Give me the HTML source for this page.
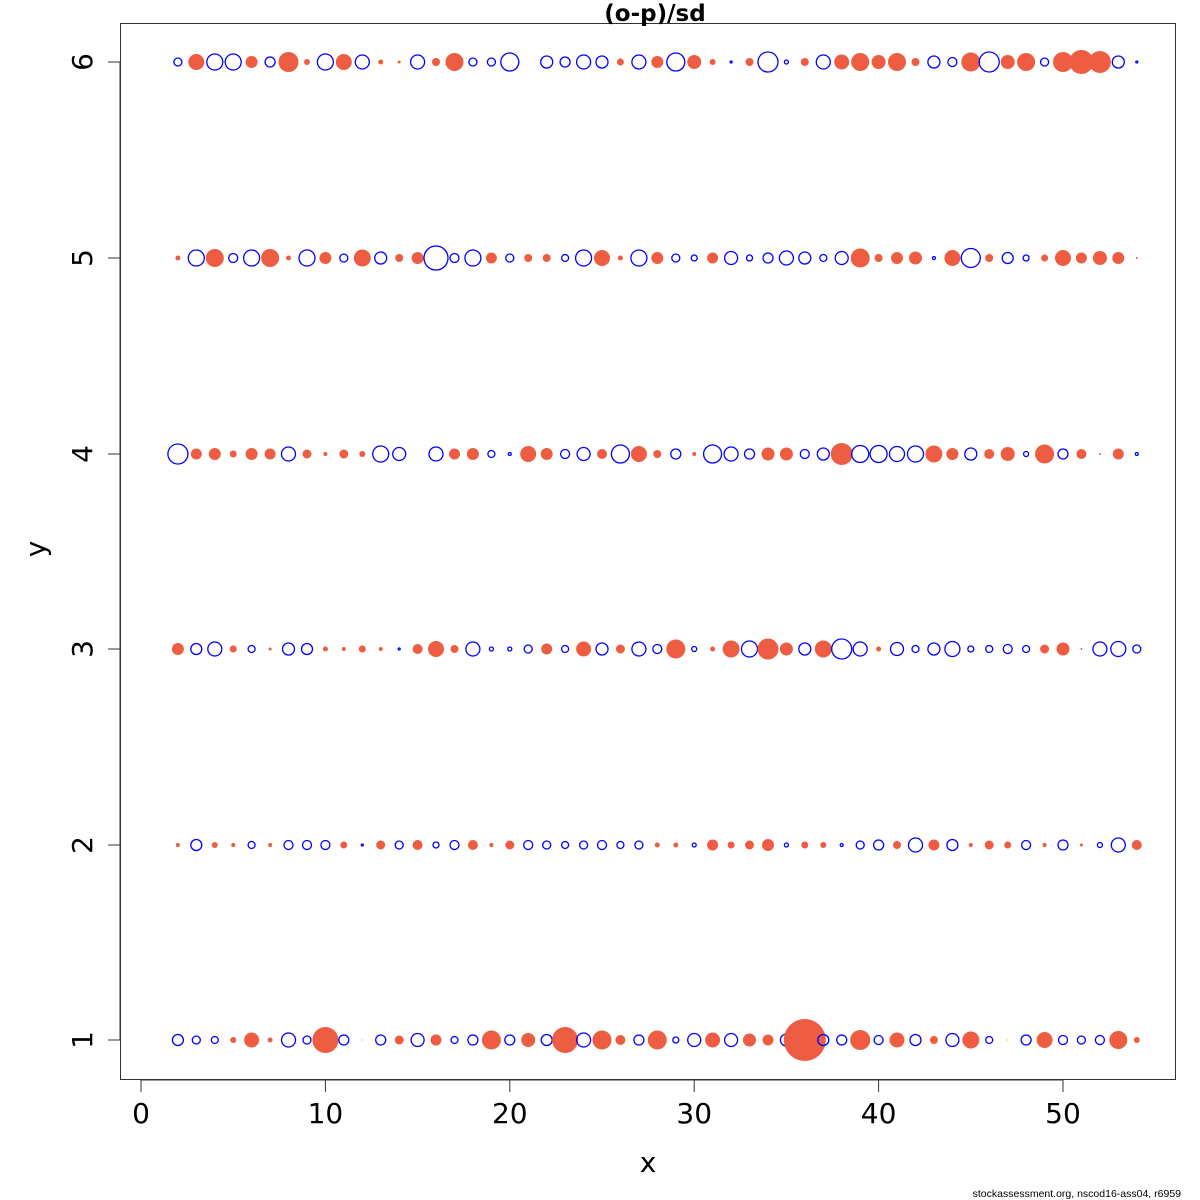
<!DOCTYPE html>
<html><head><meta charset="utf-8"><style>body{margin:0;background:#fff}svg{display:block}</style></head>
<body>
<svg id="s" width="1200" height="1200" xmlns="http://www.w3.org/2000/svg" font-family="DejaVu Sans, Liberation Sans, sans-serif">
<rect x="0" y="0" width="1200" height="1200" fill="#fff"/>
<rect x="120.5" y="23.5" width="1055" height="1056" fill="none" stroke="#333" stroke-width="1"/>
<text x="655" y="21" text-anchor="middle" font-size="23" font-weight="bold">(o-p)/sd</text>
<g stroke="#333" stroke-width="1">
<line x1="141" y1="1080" x2="1063" y2="1080"/>
<line x1="141" y1="1080" x2="141" y2="1092"/><line x1="325.4" y1="1080" x2="325.4" y2="1092"/>
<line x1="509.8" y1="1080" x2="509.8" y2="1092"/><line x1="694.2" y1="1080" x2="694.2" y2="1092"/>
<line x1="878.6" y1="1080" x2="878.6" y2="1092"/><line x1="1063" y1="1080" x2="1063" y2="1092"/>
<line x1="120" y1="62" x2="120" y2="1040"/>
<line x1="108" y1="62" x2="120" y2="62"/><line x1="108" y1="258" x2="120" y2="258"/><line x1="108" y1="454" x2="120" y2="454"/>
<line x1="108" y1="649" x2="120" y2="649"/><line x1="108" y1="845" x2="120" y2="845"/><line x1="108" y1="1040" x2="120" y2="1040"/>
</g>
<g font-size="28" text-anchor="middle" fill="#000">
<text x="141" y="1123">0</text><text x="325.4" y="1123">10</text><text x="509.8" y="1123">20</text>
<text x="694.2" y="1123">30</text><text x="878.6" y="1123">40</text><text x="1063" y="1123">50</text>
<text transform="translate(92,62) rotate(-90)">6</text><text transform="translate(92,258) rotate(-90)">5</text>
<text transform="translate(92,454) rotate(-90)">4</text><text transform="translate(92,649) rotate(-90)">3</text>
<text transform="translate(92,845) rotate(-90)">2</text><text transform="translate(92,1040) rotate(-90)">1</text>
<text x="648" y="1172">x</text>
<text transform="translate(45,549) rotate(-90)">y</text>
</g>
<text x="1181" y="1197" text-anchor="end" font-size="10.5" font-family="Liberation Sans, sans-serif">stockassessment.org, nscod16-ass04, r6959</text>
<g id="pts"></g>
</svg>
<script>
var rows={
62:[-4,8,-8,-8,6,-5,10,3,-8,8,-7,2.5,1.5,-7,4,9,-4,-4,-9,0,-6,-5,-7,-6,3.5,-7,6,-9,7,3,-1,4,-10,-2,4,-7,7.5,9,7,9,4,-6,-4.5,9.5,-10,7,9,-4,10,12,11,-6,-1],
258:[2.5,-8,9,-4.5,-8,9,2.5,-8,6,-4,8.5,-6,4,6,-12,-4.5,-8,5.5,-4,4,4,-3.5,-8,8,2.5,-8,6,-4,-3,5.5,-6.5,-3,-5,-7,-6,-3.5,-6.5,9.5,4,6,6.5,-1.5,8,-9.5,4,-5.5,-3,3.5,8,5.5,7,6,1],
454:[-10,5.5,6,3.5,6,5.5,-7,4.5,2,4.5,3,-8,-6.5,0,-7,5.5,6,-3.5,-1.5,8,6,-4.5,-6.5,5,-9,8,4,-5,2,-9,-7,-5,6.5,6.5,-4.5,-6,11,-8.5,-8.5,-7.5,-8,8.5,6,-6,5,7,-2.5,9.5,-5,5,1,5.5,-1.5],
649:[6,-5.5,-7,3.5,-3.5,1.5,-6,-5.5,2.5,2,3.5,2,-1,5,8,4,-7,-2,-2,-4,5.5,-3.5,7.5,-6,4.5,-7,-4.5,9.5,-2.5,2.5,8.5,-8,10.5,6.5,-6,8.5,-10,-7,2.5,-6.5,-3.5,-6,-7.5,-3,-3.5,-4.5,-3.5,4.5,6.5,1,-7,-7.5,-4],
845:[2,-5.5,3,2,-3.5,2,-4.5,-4.5,-4.5,3.5,-1,4.5,-4,5,-3,-4.5,5,2,4.5,-4.5,-4,-3.5,-4,-4.5,-3.5,-4,2.5,2.5,-2,5.5,3.5,4.5,6,-2,3.5,3,-1.5,-4,-5,4,-7,5.5,-5.5,2,4.5,3.5,-4.5,2,-5,1.5,-2.5,-7,5],
1040:[-5.5,-4,-3.5,3,7.5,2.5,-7,-4,13,-5,0.5,-5,4.5,-6.5,5.5,-3.5,-5,9.5,-5,7,-5.5,13,-7,9.5,5,-5,9.5,-3,-6.5,7.5,-6.5,6.5,5.5,-6,21,-5.5,-5,10,-4.5,7.5,-5.5,4,-6.5,8.5,-3.5,0.5,-5,8,-4.5,-4,-4.5,9,3]
};
var g=document.getElementById('pts'),h='';
for(var y in rows){rows[y].forEach(function(r,i){var x=141+18.44*(i+2);if(!r)return;
if(r>0)h+='<circle cx="'+x.toFixed(1)+'" cy="'+y+'" r="'+r+'" fill="#EE5C42"/>';
else h+='<circle cx="'+x.toFixed(1)+'" cy="'+y+'" r="'+(-r)+'" fill="none" stroke="#0000FF" stroke-width="1.3"/>';});}
g.innerHTML=h;
</script>
</body></html>
